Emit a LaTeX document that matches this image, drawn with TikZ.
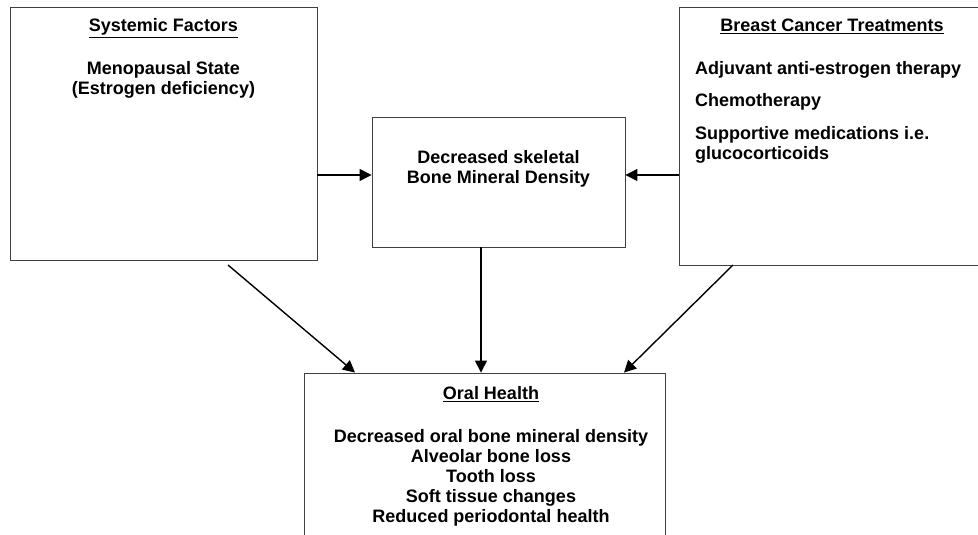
\documentclass[tikz,border=0pt]{standalone}
\usepackage{fontspec}
\setmainfont{Liberation Sans}
\usetikzlibrary{positioning,calc,arrows.meta}
\tikzset{
  panel/.style={draw=black!75, line width=0.9pt, inner sep=0pt},
  boxtext/.style={font=\fontsize{18}{20}\selectfont\bfseries, inner sep=0pt, align=center},
  flow/.style={-{Triangle[length=12pt,width=12pt]}, line width=1.4pt}
}

\begin{document}
\begin{tikzpicture}[x=1pt, y=-1pt]
    \clip (0,0) rectangle (978,535);
    % boxes
    \node[panel, minimum width=307pt, minimum height=253pt] (sysbox) at (163.5,133.5) {};
    \node[panel, minimum width=303pt, minimum height=258pt] (bctbox) at (830.5,136) {};
    \node[panel, minimum width=253pt, minimum height=130pt] (bmdbox) at (498.5,182) {};
    \node[panel, minimum width=361pt, minimum height=172pt] (oralbox) at (484.5,459) {};
    % texts
    \node[boxtext, anchor=base] (systitle) at (163.5,32) {\underline{Systemic Factors}};
    \node[boxtext] (systext) at (163.5,80) {Menopausal State\\(Estrogen deficiency)};
    \node[boxtext, anchor=base] (bcttitle) at (832,32) {\underline{Breast Cancer Treatments}};
    \node[boxtext, align=left, anchor=north west] (bcttext) at (695,61.5)
      {Adjuvant anti-estrogen therapy\\[12pt]Chemotherapy\\[13pt]Supportive medications i.e.\\glucocorticoids};
    \node[boxtext] (bmdtext) at (498.5,169) {Decreased skeletal\\Bone Mineral Density};
    \node[boxtext, anchor=base] (oraltitle) at (491,399.5) {\underline{Oral Health}};
    \node[boxtext] (oraltext) at (491,478) {Decreased oral bone mineral density\\Alveolar bone loss\\Tooth loss\\Soft tissue changes\\Reduced periodontal health};
    % connectors
    \coordinate (sysfoot) at (228,265);
    \coordinate (bctfoot) at (733,265);
    \draw[flow] (sysbox.east |- 0,175) -- (bmdbox.west |- 0,175);
    \draw[flow] (bctbox.west |- 0,175) -- (bmdbox.east |- 0,175);
    \draw[flow] (481,0 |- bmdbox.south) -- (481,0 |- oralbox.north);
    \draw[flow] (sysfoot) -- (355,0 |- oralbox.north);
    \draw[flow] (bctfoot) -- (624,0 |- oralbox.north);
\end{tikzpicture}
\end{document}
